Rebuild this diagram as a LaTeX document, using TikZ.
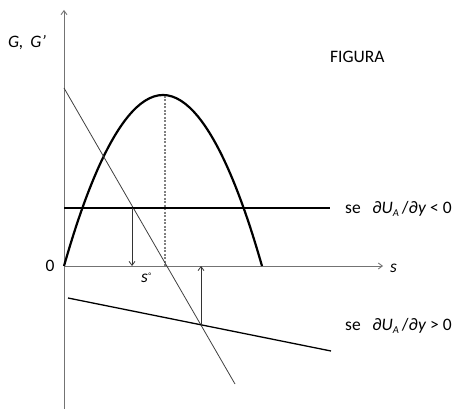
\documentclass[tikz,border=0pt]{standalone}
\usepackage{fontspec}
\setmainfont{Carlito}
\usetikzlibrary{arrows.meta}
\begin{document}
\begin{tikzpicture}[x=1pt,y=-1pt,
  axis/.style={draw=gray!90!black,line width=0.9pt},
  thinln/.style={draw=black!75,line width=0.8pt},
  medln/.style={draw=black,line width=1.3pt},
  curve/.style={draw=black,line width=2.2pt},
  arr/.style={draw=black!80,line width=0.8pt,-{Straight Barb[length=4pt,width=6pt]}},
  lbl/.style={font=\fontsize{17.5}{20}\selectfont,inner sep=0pt}]
\useasboundingbox (0,0) rectangle (463,409);
% axes
\coordinate (O) at (64,266);
\coordinate (ytop) at (64,10);
\coordinate (ybot) at (64,409);
\coordinate (xend) at (383,266);
\draw[axis] (ybot) -- (O);
\draw[axis,-{Straight Barb[length=4pt,width=6pt]}] (O) -- (ytop);
\draw[axis,-{Straight Barb[length=4pt,width=6pt]}] (O) -- (xend);
% parabola
\coordinate (pk) at (163,95);
\coordinate (pe) at (262,266);
\draw[curve] (O) parabola bend (pk) (pe);
% dotted
\coordinate (sc) at (165,266);
\coordinate (pk2) at (165,96);
\draw[draw=gray,line width=1.3pt,dash pattern=on 2pt off 1.5pt] (pk2) -- (sc);
% steep line
\coordinate (st1) at (64,88);
\coordinate (st2) at (235,384);
\draw[thinln] (st1) -- (st2);
% upper horizontal
\coordinate (h1) at (64,208);
\coordinate (h2) at (330,208);
\draw[medln] (h1) -- (h2);
% lower line
\coordinate (l1) at (68,298);
\coordinate (l2) at (331,351);
\draw[medln] (l1) -- (l2);
% arrows
\coordinate (a1) at (132,208);
\coordinate (a1e) at (132,266);
\draw[arr] (a1) -- (a1e);
\coordinate (a2) at (201,326);
\coordinate (a2e) at (201,266);
\draw[arr] (a2) -- (a2e);
% labels
\node[lbl,anchor=west] (gl) at (8,43) {\itshape G,\, G’};
\node[lbl,anchor=west] (fig) at (330,57) {FIGURA};
\node[lbl] (zero) at (50,266) {0};
\node[lbl,anchor=west] (sl) at (390,268) {\itshape s};
\node[lbl,anchor=west] (s0) at (141,278) {\itshape s\raisebox{0.55ex}{\fontsize{8}{9}\selectfont°}};
\node[lbl,anchor=west] (lab1) at (345,209) {se\enspace\,∂\textit{U}\raisebox{-0.45ex}{\fontsize{10.5}{11}\selectfont\textit{A}}\,/∂\textit{y} < 0};
\node[lbl,anchor=west] (lab2) at (345,326) {se\enspace\,∂\textit{U}\raisebox{-0.45ex}{\fontsize{10.5}{11}\selectfont\textit{A}}\,/∂\textit{y} > 0};
\end{tikzpicture}
\end{document}
